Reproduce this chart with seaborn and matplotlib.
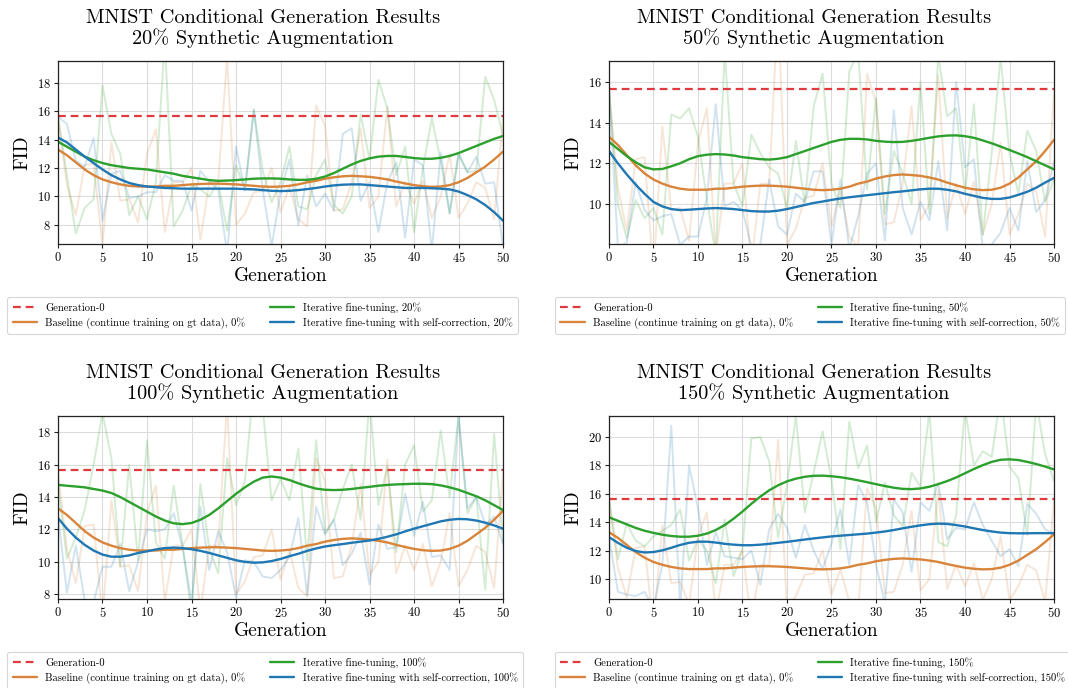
import numpy as np
import pandas as pd
import matplotlib
matplotlib.use("Agg")
import matplotlib.pyplot as plt
import seaborn as sns

# Dados (FID por geração)
GERACOES = list(range(51))
FID_GERACAO_0 = 15.66
AUMENTOS = ["20%", "50%", "100%", "150%"]

# Baseline (igual em todos os painéis)
BASE_BRUTO = [15.6, 10.8, 8.7, 12.2, 12.3, 6.6, 13.8, 9.7, 9.8, 8.2, 13.0, 14.7, 7.5, 11.0, 11.0, 12.0, 7.0,
              11.0, 11.0, 19.8, 8.0, 8.8, 10.3, 10.4, 12.0, 8.9, 10.7, 8.4, 7.9, 16.4, 15.0, 9.0, 9.1, 11.0,
              14.8, 9.2, 10.0, 16.3, 9.3, 11.0, 9.5, 11.1, 8.5, 10.0, 13.0, 8.5, 9.5, 11.0, 10.6, 8.4, 15.5]
BASE_SUAVE = [13.3, 12.9, 12.4, 11.9, 11.5, 11.2, 11.0, 10.85, 10.75, 10.7, 10.7, 10.7, 10.75, 10.75, 10.8,
              10.85, 10.88, 10.9, 10.9, 10.88, 10.85, 10.8, 10.75, 10.7, 10.68, 10.7, 10.75, 10.85, 11.0,
              11.1, 11.25, 11.35, 11.42, 11.45, 11.42, 11.38, 11.3, 11.2, 11.05, 10.92, 10.8, 10.72, 10.68,
              10.7, 10.8, 11.0, 11.3, 11.7, 12.1, 12.6, 13.15]

# Fine-tuning iterativo (bruto e suavizado)
ITER_BRUTO = {
    "20%": [15.6, 11.5, 7.4, 9.2, 9.8, 17.8, 14.4, 13.0, 8.7, 10.0, 8.4, 11.0, 21.0, 7.9, 9.0, 10.8, 10.5,
            10.0, 11.0, 7.6, 12.2, 10.5, 16.1, 11.8, 9.6, 11.0, 13.5, 9.3, 9.1, 11.5, 12.6, 9.4, 8.8, 10.0,
            15.8, 12.6, 18.2, 16.2, 11.5, 13.5, 7.5, 12.0, 15.5, 12.5, 8.8, 13.0, 11.7, 11.8, 18.4, 16.8, 14.3],
    "50%": [15.7, 10.0, 8.3, 10.2, 9.3, 9.8, 8.5, 14.4, 14.2, 14.7, 13.3, 10.2, 7.5, 17.5, 11.0, 9.9, 13.4,
            12.5, 11.8, 11.5, 9.8, 13.1, 10.0, 14.8, 16.4, 11.0, 9.8, 16.5, 17.5, 10.7, 15.2, 9.5, 12.6, 11.5,
            10.0, 16.0, 9.5, 17.3, 14.3, 14.7, 10.5, 14.9, 8.5, 12.5, 17.2, 12.5, 10.5, 13.6, 12.6, 10.1, 11.2],
    "100%": [14.8, 10.2, 11.5, 13.2, 16.0, 19.2, 16.4, 9.7, 16.0, 10.1, 17.5, 11.2, 10.2, 14.7, 11.0, 6.8,
             14.8, 10.8, 9.3, 16.4, 13.5, 15.0, 21.0, 19.5, 13.8, 15.1, 13.8, 17.0, 10.1, 17.5, 11.8, 12.6,
             14.5, 16.0, 12.6, 20.0, 13.5, 15.9, 10.6, 16.0, 17.2, 13.1, 13.8, 18.1, 14.0, 19.0, 13.0, 14.0,
             8.3, 17.9, 11.2],
    "150%": [15.7, 11.4, 13.9, 12.7, 12.3, 13.0, 13.4, 13.8, 14.9, 11.3, 12.8, 12.0, 9.7, 14.2, 10.2, 12.1,
             19.9, 20.0, 18.3, 12.9, 16.6, 21.5, 14.7, 17.5, 20.4, 17.0, 12.1, 21.1, 17.8, 19.4, 14.0, 16.8,
             14.5, 13.7, 17.5, 16.5, 21.8, 12.6, 12.3, 14.5, 22.0, 18.0, 19.0, 18.6, 23.0, 17.9, 17.1, 13.1,
             22.5, 18.8, 16.9],
}
ITER_SUAVE = {
    "20%": [13.85, 13.5, 13.15, 12.8, 12.55, 12.35, 12.2, 12.1, 12.0, 11.95, 11.9, 11.8, 11.7, 11.6, 11.45,
            11.35, 11.25, 11.15, 11.1, 11.12, 11.15, 11.2, 11.25, 11.27, 11.27, 11.25, 11.2, 11.17, 11.17,
            11.25, 11.4, 11.65, 11.95, 12.25, 12.5, 12.68, 12.8, 12.85, 12.85, 12.78, 12.7, 12.65, 12.65,
            12.72, 12.85, 13.05, 13.3, 13.55, 13.8, 14.05, 14.25],
    "50%": [13.05, 12.7, 12.35, 12.05, 11.8, 11.7, 11.72, 11.85, 12.0, 12.2, 12.35, 12.42, 12.45, 12.43,
            12.38, 12.3, 12.25, 12.2, 12.18, 12.22, 12.3, 12.45, 12.6, 12.75, 12.9, 13.05, 13.15, 13.2, 13.2,
            13.17, 13.1, 13.06, 13.04, 13.05, 13.1, 13.17, 13.25, 13.32, 13.36, 13.37, 13.33, 13.25, 13.12,
            12.98, 12.82, 12.65, 12.48, 12.3, 12.1, 11.9, 11.7],
    "100%": [14.75, 14.7, 14.65, 14.6, 14.5, 14.4, 14.25, 14.0, 13.7, 13.4, 13.1, 12.8, 12.55, 12.38, 12.33,
             12.4, 12.6, 12.9, 13.3, 13.75, 14.2, 14.6, 14.95, 15.2, 15.27, 15.2, 15.05, 14.85, 14.67, 14.52,
             14.45, 14.43, 14.45, 14.5, 14.57, 14.63, 14.7, 14.75, 14.78, 14.8, 14.82, 14.82, 14.8, 14.72,
             14.6, 14.45, 14.25, 14.05, 13.8, 13.5, 13.2],
    "150%": [14.35, 14.1, 13.85, 13.6, 13.4, 13.25, 13.12, 13.03, 12.98, 12.98, 13.05, 13.2, 13.45, 13.8,
             14.25, 14.75, 15.3, 15.8, 16.25, 16.6, 16.88, 17.07, 17.2, 17.27, 17.28, 17.24, 17.17, 17.07,
             16.95, 16.82, 16.68, 16.55, 16.43, 16.35, 16.33, 16.38, 16.5, 16.68, 16.9, 17.15, 17.45, 17.75,
             18.02, 18.25, 18.4, 18.43, 18.38, 18.25, 18.1, 17.92, 17.72],
}

# Fine-tuning iterativo com auto-correção
CORR_BRUTO = {
    "20%": [15.6, 15.1, 12.5, 12.1, 14.1, 8.3, 11.6, 11.8, 9.9, 10.0, 10.3, 10.3, 11.5, 11.1, 11.1, 9.0, 11.8,
            11.0, 10.5, 6.0, 13.5, 10.4, 16.1, 10.5, 6.5, 10.3, 12.6, 8.0, 11.5, 9.3, 10.2, 9.0, 14.4, 14.8,
            9.7, 11.0, 7.5, 11.0, 12.4, 7.1, 12.6, 12.2, 6.2, 13.1, 8.8, 13.0, 11.7, 12.8, 10.9, 11.0, 6.5],
    "50%": [15.8, 7.9, 8.1, 11.1, 9.7, 9.2, 9.4, 9.5, 8.0, 8.4, 8.4, 10.3, 14.9, 9.9, 10.1, 9.7, 7.9, 8.0,
            11.2, 8.9, 8.5, 10.5, 10.1, 11.6, 11.6, 8.0, 11.2, 7.8, 9.4, 11.5, 12.0, 8.2, 14.6, 9.8, 8.5, 10.1,
            9.2, 12.1, 8.7, 16.0, 11.8, 12.2, 7.8, 8.0, 8.6, 9.8, 8.7, 12.1, 9.6, 10.2, 12.1],
    "100%": [12.9, 8.1, 11.0, 7.6, 7.5, 9.7, 9.7, 11.1, 8.2, 10.0, 12.0, 11.9, 12.0, 13.0, 10.9, 7.5, 13.4,
             9.5, 11.9, 10.6, 7.8, 10.1, 10.0, 9.1, 9.0, 9.5, 10.3, 12.7, 7.9, 13.4, 11.7, 12.6, 9.8, 10.5,
             11.8, 8.6, 12.3, 10.8, 10.9, 14.2, 11.6, 13.7, 10.3, 10.4, 9.5, 19.0, 13.3, 14.0, 12.3, 12.8, 11.1],
    "150%": [13.0, 9.1, 8.9, 8.8, 9.1, 8.0, 11.0, 20.8, 8.0, 18.0, 15.0, 11.0, 13.3, 11.6, 11.5, 11.4, 12.0,
             9.6, 13.5, 14.6, 13.6, 11.5, 13.8, 12.0, 10.7, 12.5, 14.9, 11.0, 16.6, 15.4, 11.0, 8.3, 15.6,
             14.7, 10.5, 15.4, 14.8, 16.8, 12.8, 13.6, 13.5, 15.4, 13.8, 12.7, 11.6, 12.1, 10.9, 15.3, 14.6,
             13.5, 13.2],
}
CORR_SUAVE = {
    "20%": [14.15, 13.8, 13.3, 12.8, 12.35, 11.9, 11.5, 11.2, 10.95, 10.8, 10.7, 10.65, 10.6, 10.58, 10.55,
            10.55, 10.55, 10.55, 10.55, 10.55, 10.55, 10.52, 10.5, 10.45, 10.4, 10.38, 10.4, 10.45, 10.52,
            10.6, 10.7, 10.78, 10.83, 10.85, 10.85, 10.8, 10.75, 10.7, 10.65, 10.6, 10.6, 10.6, 10.58, 10.55,
            10.5, 10.35, 10.1, 9.8, 9.4, 8.9, 8.3],
    "50%": [12.6, 12.0, 11.45, 10.95, 10.5, 10.1, 9.88, 9.75, 9.7, 9.72, 9.75, 9.78, 9.8, 9.78, 9.75, 9.7,
            9.65, 9.63, 9.63, 9.67, 9.75, 9.85, 9.95, 10.05, 10.12, 10.2, 10.27, 10.33, 10.38, 10.43, 10.48,
            10.53, 10.58, 10.62, 10.67, 10.72, 10.75, 10.75, 10.7, 10.62, 10.5, 10.4, 10.3, 10.25, 10.25,
            10.32, 10.45, 10.6, 10.8, 11.05, 11.28],
    "100%": [12.7, 12.05, 11.5, 11.05, 10.7, 10.45, 10.32, 10.32, 10.4, 10.55, 10.65, 10.77, 10.85, 10.88,
             10.85, 10.78, 10.68, 10.55, 10.4, 10.25, 10.1, 10.0, 9.95, 9.97, 10.05, 10.18, 10.35, 10.5,
             10.68, 10.83, 10.95, 11.03, 11.1, 11.18, 11.25, 11.32, 11.42, 11.55, 11.7, 11.88, 12.05, 12.2,
             12.35, 12.5, 12.6, 12.65, 12.63, 12.55, 12.42, 12.25, 12.05],
    "150%": [12.95, 12.55, 12.2, 11.97, 11.87, 11.9, 12.02, 12.2, 12.4, 12.55, 12.63, 12.63, 12.57, 12.48,
             12.42, 12.38, 12.38, 12.42, 12.48, 12.55, 12.62, 12.7, 12.78, 12.86, 12.93, 13.0, 13.05, 13.1,
             13.15, 13.2, 13.27, 13.35, 13.45, 13.57, 13.68, 13.78, 13.86, 13.9, 13.88, 13.8, 13.7, 13.57,
             13.45, 13.35, 13.27, 13.23, 13.22, 13.22, 13.23, 13.23, 13.23],
}

LIMITES_Y = {"20%": (6.64, 19.52), "50%": (8.02, 17.02), "100%": (7.69, 19.0), "150%": (8.57, 21.48)}
TICKS_Y = {"20%": [8, 10, 12, 14, 16, 18], "50%": [10, 12, 14, 16],
           "100%": [8, 10, 12, 14, 16, 18], "150%": [10, 12, 14, 16, 18, 20]}

# Cores
COR_VERMELHO = "#e0393e"
COR_LARANJA = "#d8843a"
COR_VERDE = "#2ca02c"
COR_AZUL = "#1f77b4"

# Posições dos eixos (fração da figura)
LARGURA_EIXO = 0.4167
ALTURA_EIXO = 0.2664
POS_EIXOS = [(0.0543, 0.6449), (0.5702, 0.6449), (0.0543, 0.1289), (0.5702, 0.1289)]
POS_LEGENDA = [(0.0070, 0.5688), (0.5197, 0.5688), (0.0070, 0.0528), (0.5197, 0.0528)]


def configurar_estilo():
    sns.set_style("whitegrid", {
        "axes.edgecolor": "#222222",
        "grid.color": "#dcdcdc",
        "xtick.bottom": True,
        "ytick.left": True,
        "text.color": "black",
        "axes.labelcolor": "black",
    })
    plt.rcParams["font.family"] = ["cmr10", "DejaVu Serif"]
    plt.rcParams["mathtext.fontset"] = "cm"
    plt.rcParams["axes.formatter.use_mathtext"] = True
    plt.rcParams["axes.linewidth"] = 0.9
    plt.rcParams["grid.linewidth"] = 0.8
    plt.rcParams["xtick.major.size"] = 3
    plt.rcParams["ytick.major.size"] = 3
    plt.rcParams["xtick.major.width"] = 0.8
    plt.rcParams["ytick.major.width"] = 0.8
    plt.rcParams["xtick.color"] = "#222222"
    plt.rcParams["ytick.color"] = "#222222"
    plt.rcParams["xtick.labelcolor"] = "black"
    plt.rcParams["ytick.labelcolor"] = "black"


def plotar_painel(fig, idx, aumento):
    x0, y0 = POS_EIXOS[idx]
    ax = fig.add_axes([x0, y0, LARGURA_EIXO, ALTURA_EIXO])

    # Séries brutas (transparentes)
    sns.lineplot(x=GERACOES, y=BASE_BRUTO, ax=ax, color=COR_LARANJA, alpha=0.2, lw=1.4)
    sns.lineplot(x=GERACOES, y=ITER_BRUTO[aumento], ax=ax, color=COR_VERDE, alpha=0.2, lw=1.4)
    sns.lineplot(x=GERACOES, y=CORR_BRUTO[aumento], ax=ax, color=COR_AZUL, alpha=0.2, lw=1.4)

    # Séries suavizadas
    ax.axhline(FID_GERACAO_0, color=COR_VERMELHO, ls=(0, (3.5, 2.2)), lw=1.6, label="Generation-0")
    sns.lineplot(x=GERACOES, y=BASE_SUAVE, ax=ax, color=COR_LARANJA, lw=1.7,
                 label="Baseline (continue training on gt data), 0%")
    sns.lineplot(x=GERACOES, y=ITER_SUAVE[aumento], ax=ax, color=COR_VERDE, lw=1.7,
                 label=f"Iterative fine-tuning, {aumento}")
    sns.lineplot(x=GERACOES, y=CORR_SUAVE[aumento], ax=ax, color=COR_AZUL, lw=1.7,
                 label=f"Iterative fine-tuning with self-correction, {aumento}")

    ax.set_xlim(0, 50)
    ax.set_ylim(*LIMITES_Y[aumento])
    ax.set_xticks(range(0, 51, 5))
    ax.set_yticks(TICKS_Y[aumento])
    ax.tick_params(axis="both", labelsize=9, pad=2)
    ax.set_xlabel("Generation", fontsize=14, labelpad=1)
    ax.set_ylabel("FID", fontsize=14, labelpad=4)
    ax.set_title(f"MNIST Conditional Generation Results\n{aumento} Synthetic Augmentation",
                 fontsize=14.6, linespacing=1.1, pad=12, x=0.46)

    lx, ly = POS_LEGENDA[idx]
    leg = ax.legend(loc="upper left", bbox_to_anchor=(lx, ly), bbox_transform=fig.transFigure,
                    ncol=2, fontsize=7.6, frameon=True, fancybox=True, borderaxespad=0,
                    handlelength=2.3, columnspacing=2.3, labelspacing=0.45, borderpad=0.5)
    leg.get_frame().set_edgecolor("#cccccc")
    leg.get_frame().set_linewidth(0.8)


def main():
    configurar_estilo()
    fig = plt.figure(figsize=(10.68, 6.88), dpi=100)
    for i, aumento in enumerate(AUMENTOS):
        plotar_painel(fig, i, aumento)
    fig.savefig("out.png", dpi=100)


if __name__ == "__main__":
    main()
